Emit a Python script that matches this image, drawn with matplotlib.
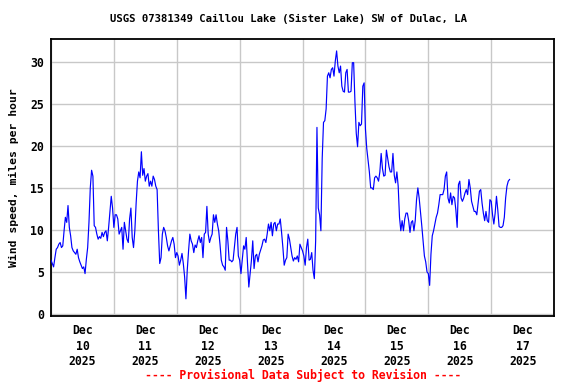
import numpy as np
import pandas as pd
import matplotlib
matplotlib.use("Agg")
from matplotlib import pyplot as plt
import matplotlib.dates as mdates

# wind speed, mph, every 30 minutes starting Dec 10 2025 00:00
dec10 = [6.4, 6.0, 5.6, 6.7, 7.7, 7.9, 8.3, 8.5, 7.9, 8.1, 9.9, 11.5,
         10.9, 12.9, 10.3, 9.3, 7.9, 7.5, 7.3, 7.1, 7.7, 6.7, 6.2, 5.8,
         5.4, 5.6, 4.8, 6.5, 7.9, 10.9, 15.0, 17.1, 16.4, 10.5, 10.3, 9.5,
         8.9, 9.2, 9.0, 9.7, 9.2, 9.7, 9.9, 8.7, 10.3, 12.2, 14.0, 12.6]
dec11 = [10.3, 11.8, 11.8, 11.3, 9.5, 9.9, 10.3, 7.7, 10.9, 9.9, 8.9, 8.5,
         11.3, 12.6, 9.1, 7.9, 9.9, 13.2, 15.8, 16.9, 16.2, 19.3, 16.5, 17.3,
         15.8, 16.4, 16.7, 15.2, 15.8, 15.2, 16.4, 16.0, 15.2, 14.8, 9.9, 6.0,
         6.7, 9.5, 10.3, 9.9, 9.1, 8.1, 7.5, 8.1, 8.7, 9.1, 8.3, 6.7]
dec12 = [7.3, 6.9, 5.8, 6.4, 7.2, 6.0, 4.4, 1.8, 5.2, 7.5, 9.5, 8.7,
         8.3, 7.3, 8.2, 7.9, 8.7, 9.3, 8.5, 9.1, 6.7, 9.5, 9.7, 12.8,
         9.5, 8.5, 9.1, 9.5, 11.8, 10.9, 11.8, 10.7, 9.9, 8.3, 6.4, 5.8,
         5.6, 5.2, 10.3, 8.7, 6.4, 6.4, 6.2, 6.4, 7.9, 9.5, 10.3, 6.9]
dec13 = [6.4, 4.8, 6.4, 8.1, 7.7, 9.1, 6.0, 3.2, 4.8, 6.4, 8.7, 5.4,
         6.9, 7.1, 6.2, 7.1, 7.6, 8.1, 8.8, 8.9, 8.5, 9.5, 10.7, 9.9,
         10.9, 9.3, 10.7, 10.9, 9.9, 10.7, 10.7, 11.3, 9.7, 7.9, 5.8, 6.4,
         6.7, 9.5, 8.9, 7.9, 6.9, 6.3, 6.7, 6.5, 6.9, 6.2, 8.3, 7.9]
dec14 = [7.5, 6.9, 5.8, 7.9, 8.9, 6.4, 6.5, 7.3, 5.2, 4.2, 8.7, 22.2,
         12.6, 11.8, 9.9, 18.5, 22.8, 23.0, 24.4, 28.3, 28.7, 28.1, 29.1, 29.3,
         28.3, 30.1, 31.3, 29.5, 28.7, 29.5, 27.1, 26.5, 26.4, 28.7, 29.1, 26.4,
         26.4, 26.5, 29.9, 29.9, 25.2, 21.5, 19.9, 22.8, 22.4, 22.6, 27.1, 27.5]
dec15 = [22.0, 19.7, 18.3, 16.9, 15.0, 15.0, 14.8, 16.2, 16.4, 16.2, 15.8, 16.9,
         19.1, 17.3, 16.4, 16.5, 19.5, 18.5, 17.5, 16.9, 16.9, 19.1, 16.5, 15.6,
         16.9, 15.2, 11.5, 9.9, 11.1, 9.9, 11.3, 12.0, 12.0, 11.1, 9.7, 10.9,
         11.1, 9.9, 11.1, 13.6, 15.0, 13.8, 12.2, 10.5, 8.7, 6.9, 6.2, 5.0]
dec16 = [4.8, 3.4, 7.1, 9.3, 9.9, 10.7, 11.5, 12.0, 13.0, 14.2, 14.2, 14.2,
         14.8, 16.4, 16.9, 13.8, 13.2, 14.4, 13.0, 14.0, 13.8, 12.4, 10.3, 15.4,
         15.8, 13.8, 13.4, 13.8, 14.4, 14.8, 14.2, 16.0, 15.0, 13.4, 12.8, 12.2,
         12.2, 11.8, 13.2, 14.6, 14.8, 13.2, 12.0, 11.1, 12.2, 11.1, 10.9, 13.6]
dec17 = [13.4, 11.8, 10.7, 12.0, 14.0, 12.4, 10.4, 10.3, 10.3, 10.5, 11.5, 13.8,
         15.2, 15.8, 16.0]

speed = dec10 + dec11 + dec12 + dec13 + dec14 + dec15 + dec16 + dec17
times = pd.date_range("2025-12-10 00:00", periods=len(speed), freq="30min")

mono = "DejaVu Sans Mono"

fig = plt.figure(figsize=(5.76, 3.84), dpi=100)
ax = fig.add_axes([0.0885, 0.177, 0.8735, 0.721])

ax.plot(times, speed, color="#0000ff", lw=0.85, zorder=3)

ax.set_xlim(pd.Timestamp("2025-12-10"), pd.Timestamp("2025-12-18"))
ax.set_ylim(-0.25, 32.7)
ax.set_yticks(range(0, 31, 5))

ax.xaxis.set_major_locator(mdates.DayLocator())
ax.xaxis.set_major_formatter(plt.NullFormatter())
ax.xaxis.set_minor_locator(mdates.HourLocator(byhour=12))
ax.xaxis.set_minor_formatter(mdates.DateFormatter("%b\n%d\n%Y"))

ax.grid(True, which="major", color="#c8c8c8", lw=1.0, zorder=0)
ax.tick_params(which="both", length=0)
ax.tick_params(axis="x", which="minor", pad=6)
ax.tick_params(axis="y", pad=5)
for lab in ax.get_xticklabels(minor=True):
    lab.set_fontfamily(mono)
    lab.set_fontweight("bold")
    lab.set_fontsize(8.3)
    lab.set_linespacing(1.25)
for lab in ax.get_yticklabels():
    lab.set_fontfamily(mono)
    lab.set_fontweight("bold")
    lab.set_fontsize(8.3)

for s in ax.spines.values():
    s.set_linewidth(1.3)
    s.set_color("black")

ax.set_ylabel("Wind speed, miles per hour", fontfamily=mono, fontweight="bold",
              fontsize=8.2, labelpad=8)

fig.text(0.5, 1 - 19 / 384, "USGS 07381349 Caillou Lake (Sister Lake) SW of Dulac, LA",
         ha="center", va="center", fontfamily=mono, fontweight="bold", fontsize=7.7)
fig.text(0.526, 1 - 375 / 384, "---- Provisional Data Subject to Revision ----",
         ha="center", va="center", fontfamily=mono, fontweight="bold", fontsize=8.3,
         color="red")

fig.savefig("out.png", dpi=100)
